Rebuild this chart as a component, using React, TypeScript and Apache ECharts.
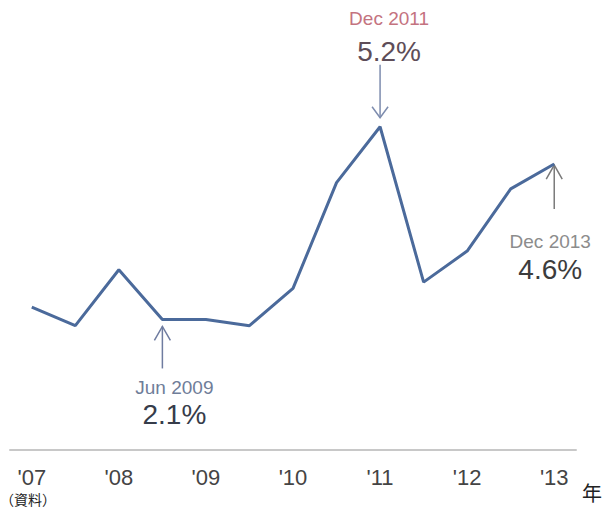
import React, { useEffect, useRef } from "react";
import * as echarts from "echarts";

const periods = [
  "Dec 2007", "Jun 2008", "Dec 2008", "Jun 2009", "Dec 2009", "Jun 2010", "Dec 2010",
  "Jun 2011", "Dec 2011", "Jun 2012", "Dec 2012", "Jun 2013", "Dec 2013",
];
const tickLabels = ["'07", "", "'08", "", "'09", "", "'10", "", "'11", "", "'12", "", "'13"];
const rates = [2.3, 2.0, 2.9, 2.1, 2.1, 2.0, 2.6, 4.3, 5.2, 2.7, 3.2, 4.2, 4.6];

const annotations = [
  { index: 8, title: "Dec 2011", value: "5.2%", side: "above", titleColor: "#c4737f", valueColor: "#5e4d58", arrowColor: "#7d8cae", dx: 9, tipGap: 9, len: 53, titleOff: 108, valueOff: 75 },
  { index: 3, title: "Jun 2009", value: "2.1%", side: "below", titleColor: "#6f7d99", valueColor: "#363c4a", arrowColor: "#6f7ca0", dx: 12, tipGap: 7, len: 42, titleOff: 68, valueOff: 95 },
  { index: 12, title: "Dec 2013", value: "4.6%", side: "below", titleColor: "#8c8c8c", valueColor: "#3c3c3c", arrowColor: "#7a7a7a", dx: -4, tipGap: 1, len: 44, titleOff: 77, valueOff: 105 },
];

const FONT = "Liberation Sans, Arial, Helvetica, sans-serif";

export default function App() {
  const ref = useRef<HTMLDivElement>(null);
  useEffect(() => {
    if (!ref.current) return;
    const chart = echarts.init(ref.current, null, { renderer: "svg" });
    chart.setOption({
      animation: false,
      backgroundColor: "#ffffff",
      grid: { left: 10, right: 28, top: 77, bottom: 57, containLabel: false },
      xAxis: {
        type: "category",
        data: periods,
        boundaryGap: true,
        axisLine: { show: true, lineStyle: { color: "#c8c8c8", width: 2 } },
        axisTick: { show: false },
        axisLabel: {
          interval: 0,
          margin: 17,
          color: "#444444",
          fontSize: 22,
          lineHeight: 20,
          fontFamily: FONT,
          formatter: (_v: string, i: number) => tickLabels[i],
        },
        splitLine: { show: false },
      },
      yAxis: {
        type: "value",
        min: 0,
        max: 6,
        show: false,
        splitLine: { show: false },
      },
      series: [
        {
          type: "line",
          data: rates,
          symbol: "none",
          lineStyle: { color: "#4b6a9b", width: 3 },
        },
      ],
    });

    const graphics: any[] = [];
    const titleStyle = (a: any) => ({ text: a.title, fill: a.titleColor, font: `19px ${FONT}`, lineHeight: 17, align: "center", verticalAlign: "middle" });
    const valueStyle = (a: any) => ({ text: a.value, fill: a.valueColor, font: `28px ${FONT}`, lineHeight: 24, align: "center", verticalAlign: "middle" });
    annotations.forEach((a) => {
      const p = chart.convertToPixel({ seriesIndex: 0 }, [a.index, rates[a.index]]) as number[];
      const x = p[0];
      const y = p[1];
      const head = 11;
      const spread = 8;
      if (a.side === "above") {
        const tip = y - a.tipGap;
        const start = tip - a.len;
        graphics.push(
          { type: "line", shape: { x1: x, y1: start, x2: x, y2: tip }, style: { stroke: a.arrowColor, lineWidth: 1.5 } },
          { type: "polyline", shape: { points: [[x - spread, tip - head], [x, tip], [x + spread, tip - head]] }, style: { stroke: a.arrowColor, lineWidth: 1.5, fill: "none" } },
          { type: "text", x: x + a.dx, y: y - a.valueOff, style: valueStyle(a) },
          { type: "text", x: x + a.dx, y: y - a.titleOff, style: titleStyle(a) },
        );
      } else {
        const tip = y + a.tipGap;
        const end = tip + a.len;
        graphics.push(
          { type: "line", shape: { x1: x, y1: tip, x2: x, y2: end }, style: { stroke: a.arrowColor, lineWidth: 1.5 } },
          { type: "polyline", shape: { points: [[x - spread, tip + head + 3], [x, tip], [x + spread, tip + head + 3]] }, style: { stroke: a.arrowColor, lineWidth: 1.5, fill: "none" } },
          { type: "text", x: x + a.dx, y: y + a.titleOff, style: titleStyle(a) },
          { type: "text", x: x + a.dx, y: y + a.valueOff, style: valueStyle(a) },
        );
      }
    });
    graphics.push(
      { type: "text", left: 582, top: 482, style: { text: "年", fill: "#222222", font: `20px "Noto Sans CJK JP", sans-serif` } },
      { type: "text", left: 0, top: 491, style: { text: "（資料）", fill: "#222222", font: `14px "Noto Sans CJK JP", sans-serif`, lineHeight: 15 } },
    );
    chart.setOption({ graphic: graphics });
    return () => chart.dispose();
  }, []);
  return <div ref={ref} style={{ width: 604, height: 507, position: "absolute", left: 0, top: 0 }} />;
}
